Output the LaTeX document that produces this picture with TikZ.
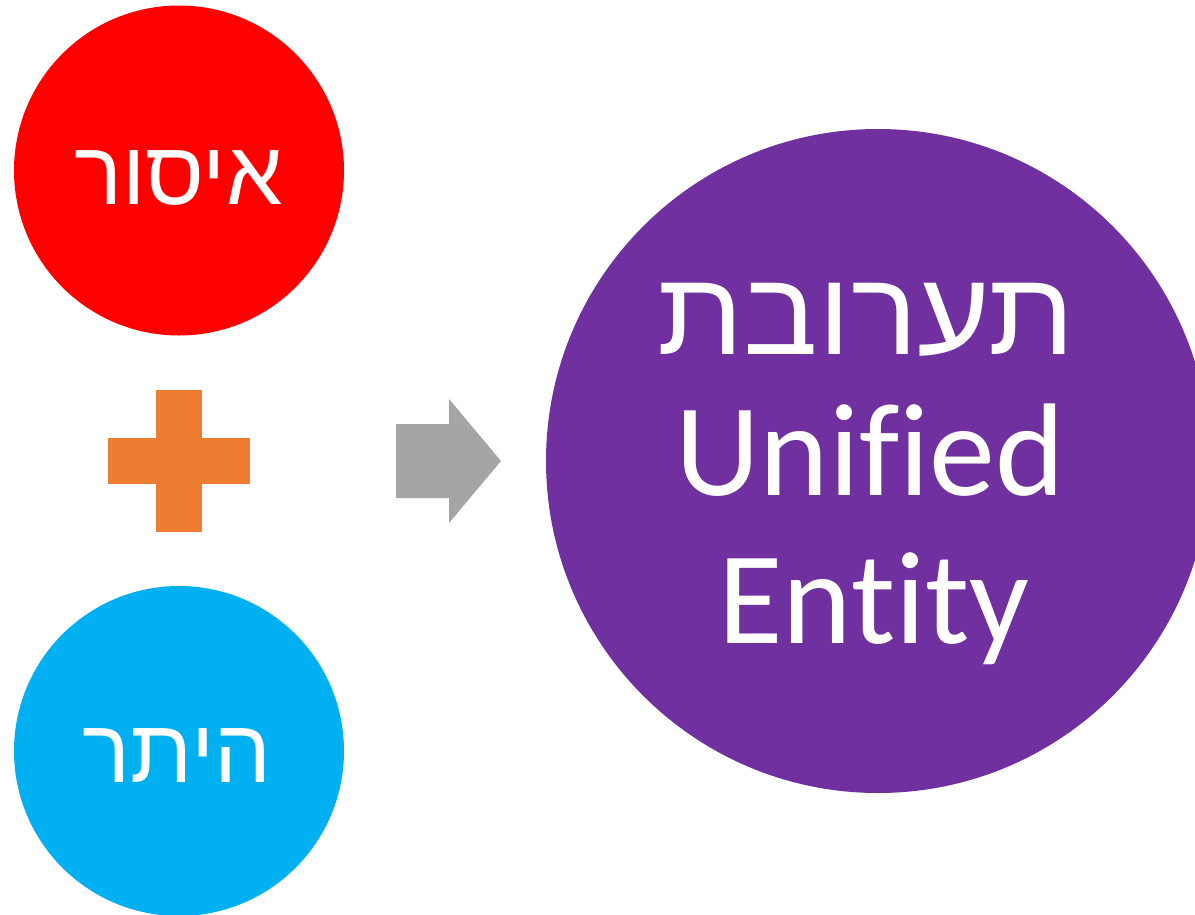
\documentclass[tikz,border=0pt]{standalone}
\usepackage{fontspec}
\setmainfont[Ligatures={NoCommon}]{Carlito}
\newfontfamily\hebfont[Script=Hebrew]{Liberation Sans}
\TeXXeTstate=1
\definecolor{cred}{HTML}{FF0000}
\definecolor{cblue}{HTML}{00B0F0}
\definecolor{cpurple}{HTML}{7030A0}
\definecolor{corange}{HTML}{ED7D31}
\definecolor{cgray}{HTML}{A5A5A5}
\begin{document}
\begin{tikzpicture}[x=1pt,y=-1pt,
  disc/.style={circle,inner sep=0pt,draw=none},
  lbl/.style={text=white,inner sep=0pt,anchor=base}]
\useasboundingbox (0,0) rectangle (1195,914);
\node[disc,fill=cred,minimum size=330pt] (red) at (179,170.5) {};
\node[disc,fill=cblue,minimum size=330pt] (blue) at (179,751) {};
\node[disc,fill=cpurple,minimum size=664pt] (purple) at (878,461) {};
\node[lbl,font=\hebfont\fontsize{90}{90}\selectfont] (t1) at (178.5,204) {\beginR איסור\endR};
\node[lbl,font=\hebfont\fontsize{90}{90}\selectfont] (t2) at (177,782) {\beginR היתר\endR};
\node[lbl,font=\hebfont\fontsize{119}{119}\selectfont,xscale=1.05,transform shape] (t3) at (866,354) {\beginR תערובת\endR};
\node[lbl,font=\fontsize{132}{132}\selectfont] (t4) at (870,495) {Unified};
\node[lbl,font=\fontsize{132}{132}\selectfont] (t5) at (874,643) {Entity};
\fill[corange] (156,390) rectangle (202,532);
\fill[corange] (108,438) rectangle (250,484);
\fill[cgray] (396,424) -- (449,424) -- (449,399) -- (501,461) -- (449,523) -- (449,498) -- (396,498) -- cycle;
\end{tikzpicture}
\end{document}
